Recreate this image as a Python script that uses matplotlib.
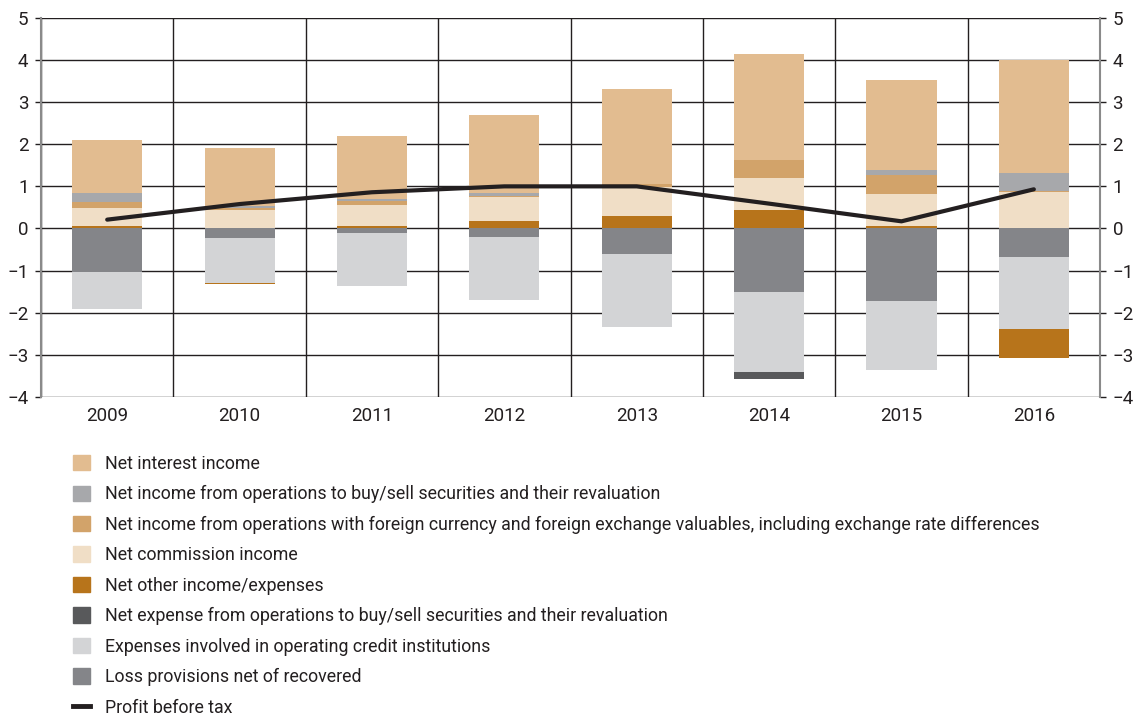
import numpy as np
import matplotlib.pyplot as plt
from matplotlib.patches import Patch
from matplotlib.lines import Line2D

plt.rcParams['font.family'] = ['Roboto', 'DejaVu Sans']

years = ['2009', '2010', '2011', '2012', '2013', '2014', '2015', '2016']

# income components (positive)
interest = [1.27, 1.37, 1.50, 1.86, 2.24, 2.53, 2.13, 2.68]
securities = [0.20, 0.05, 0.04, 0.06, 0.00, 0.00, 0.11, 0.42]
fx = [0.15, 0.05, 0.09, 0.04, 0.08, 0.43, 0.45, 0.03]
commission = [0.42, 0.43, 0.49, 0.57, 0.68, 0.74, 0.76, 0.86]
other = [0.07, -0.02, 0.07, 0.17, 0.30, 0.45, 0.07, -0.68]
# expense components (negative)
sec_expense = [0.0, 0.0, 0.0, 0.0, 0.0, -0.17, 0.0, 0.0]
op_expenses = [-0.88, -1.07, -1.27, -1.49, -1.73, -1.90, -1.64, -1.72]
provisions = [-1.04, -0.23, -0.10, -0.21, -0.60, -1.50, -1.71, -0.67]
profit = [0.21, 0.58, 0.86, 1.00, 1.00, 0.59, 0.17, 0.93]

labels = [
    'Net interest income',
    'Net income from operations to buy/sell securities and their revaluation',
    'Net income from operations with foreign currency and foreign exchange valuables, including exchange rate differences',
    'Net commission income',
    'Net other income/expenses',
    'Net expense from operations to buy/sell securities and their revaluation',
    'Expenses involved in operating credit institutions',
    'Loss provisions net of recovered',
    'Profit before tax',
]
colors = ['#E2BC90', '#A7A8AB', '#D2A36A', '#F0DEC6', '#B7741B', '#58595B', '#D3D4D6', '#848589']

x = np.arange(len(years))
other = np.array(other)
other_pos = np.clip(other, 0, None)
other_neg = np.clip(other, None, 0)

fig = plt.figure(figsize=(11.33, 7.15), dpi=100)
ax = fig.add_axes([0.0362, 0.4448, 0.9347, 0.5302])

w = 0.53
pos_series = [other_pos, commission, fx, securities, interest]
pos_colors = [colors[4], colors[3], colors[2], colors[1], colors[0]]
bottom = np.zeros(len(x))
for vals, c in zip(pos_series, pos_colors):
    vals = np.array(vals)
    ax.bar(x, vals, w, bottom=bottom, color=c, zorder=2)
    bottom += vals

neg_series = [provisions, op_expenses, sec_expense, other_neg]
neg_colors = [colors[7], colors[6], colors[5], colors[4]]
bottom = np.zeros(len(x))
for vals, c in zip(neg_series, neg_colors):
    vals = np.array(vals)
    ax.bar(x, vals, w, bottom=bottom, color=c, zorder=2)
    bottom += vals

ax.plot(x, profit, color='#231F20', lw=3, solid_capstyle='round', zorder=3)

ax.set_xlim(-0.5, len(years) - 0.5)
ax.set_ylim(-4, 5)
ax.set_yticks(range(-4, 6))
ax.set_xticks(x)
ax.set_xticklabels(years)
ax.set_xticks(np.arange(-0.5, len(years)), minor=True)
ax.grid(True, axis='y', color='#231F20', lw=1, zorder=0)
ax.grid(True, axis='x', which='minor', color='#231F20', lw=1, zorder=0)
ax.tick_params(axis='x', which='both', length=0, labelsize=13.5, pad=7, colors='#231F20')
ax.tick_params(axis='y', length=4, width=1, color='#231F20', labelsize=13.5,
               right=True, labelright=True, pad=5, labelcolor='#231F20')
for s in ['top', 'bottom']:
    ax.spines[s].set_visible(False)
for s in ['left', 'right']:
    ax.spines[s].set_color('#8A8A8A')
    ax.spines[s].set_linewidth(1.5)

handles = [Patch(color=c) for c in colors]
handles.append(Line2D([0], [0], color='#231F20', lw=3.5))
fig.legend(handles, labels, loc='upper left', bbox_to_anchor=(0.0644, 0.364),
           frameon=False, fontsize=12.8, labelspacing=0.7, handlelength=0.95,
           handleheight=0.95, handletextpad=0.85, borderpad=0, borderaxespad=0,
           labelcolor='#231F20')

fig.savefig('out.png', dpi=100)
